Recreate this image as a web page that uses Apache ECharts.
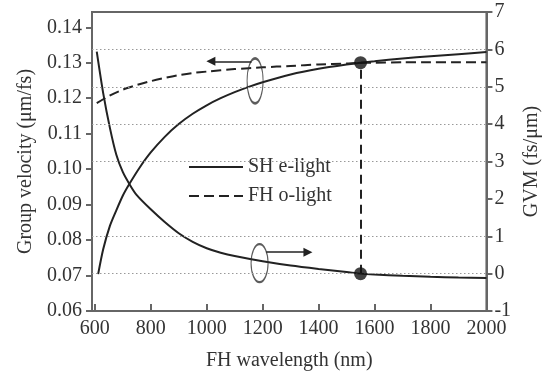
<!DOCTYPE html>
<html>
<head>
<meta charset="utf-8">
<script src="https://cdn.jsdelivr.net/npm/echarts@6/dist/echarts.min.js"></script>
<style>
html,body{margin:0;padding:0;background:#fff;}
#chart{width:550px;height:376px;}
</style>
</head>
<body>
<div id="chart"></div>
<script>
// ---- data ----
const xTickValues = [600, 800, 1000, 1200, 1400, 1600, 1800, 2000];
const leftTickValues = [0.06, 0.07, 0.08, 0.09, 0.10, 0.11, 0.12, 0.13, 0.14];
const rightTickValues = [-1, 0, 1, 2, 3, 4, 5, 6, 7];
const gridValues = [0, 1, 3, 4, 5, 6];

const shLambda = [612, 630, 654, 677, 700, 725, 760, 800, 850, 900, 950, 1000, 1050, 1100, 1150, 1200, 1300, 1400, 1500, 1550, 1600, 1700, 1800, 1900, 2000];
const shGV     = [0.0704, 0.0774, 0.0840, 0.0884, 0.0925, 0.0960, 0.1004, 0.1047, 0.1091, 0.1127, 0.1156, 0.1180, 0.1200, 0.1217, 0.1232, 0.1245, 0.1267, 0.1283, 0.1295, 0.1300, 0.1304, 0.1312, 0.1318, 0.1324, 0.1330];

const fhLambda = [607, 650, 700, 750, 800, 850, 900, 950, 1000, 1100, 1200, 1300, 1400, 1500, 1550, 1600, 1700, 1800, 1900, 2000];
const fhGV     = [0.1186, 0.1206, 0.1224, 0.1237, 0.1248, 0.1257, 0.1265, 0.1271, 0.1275, 0.1282, 0.1287, 0.1291, 0.1295, 0.1298, 0.1300, 0.1300, 0.1301, 0.1301, 0.1301, 0.1301];

const gvmLambda = [607, 630, 654, 677, 700, 725, 750, 800, 850, 900, 950, 1000, 1050, 1100, 1200, 1300, 1400, 1500, 1550, 1600, 1700, 1800, 1900, 2000];
const gvmValues = [5.94, 4.83, 3.90, 3.18, 2.72, 2.38, 2.10, 1.72, 1.38, 1.08, 0.85, 0.68, 0.56, 0.47, 0.33, 0.215, 0.125, 0.045, 0.00, -0.025, -0.06, -0.085, -0.105, -0.12];

const markerLambda = 1550;
const markerGV = 0.1300;
const markerGVM = 0;

// annotation anchors (data coordinates)
const ellipseLeft = [1173, 0.1249];
const ellipseRight = [1189, 0.28];
const arrowLeftFrom = [1160, 0.1304];
const arrowLeftTo = [1015, 0.1304];
const arrowRightFrom = [1213, 0.573];
const arrowRightTo = [1362, 0.573];

// ---- chart ----
const FONT = 'Liberation Serif';
const TXT = '#333';
const AX = '#666';
const FS = 20;
const pairs = (xs, ys) => xs.map((x, i) => [x, ys[i]]);

const chart = echarts.init(document.getElementById('chart'), null, {renderer: 'canvas'});

const lineCommon = {type: 'line', symbol: 'none', showSymbol: false, smooth: 0.25, z: 3};

const option = {
  animation: false,
  grid: {left: 92, right: 59, top: 12, bottom: 64, show: true, borderColor: AX, borderWidth: 2, backgroundColor: 'transparent'},
  legend: {
    data: ['SH e-light', 'FH o-light'],
    orient: 'vertical', left: 188, top: 157,
    itemWidth: 54, itemHeight: 14, itemGap: 9, padding: 0,
    selectedMode: false,
    itemStyle: {opacity: 0},
    textStyle: {fontFamily: FONT, fontSize: FS, color: TXT, lineHeight: 20}
  },
  xAxis: {
    type: 'value', min: 590, max: 2000,
    name: 'FH wavelength (nm)', nameLocation: 'middle', nameGap: 40,
    nameTextStyle: {fontFamily: FONT, fontSize: FS, color: TXT},
    axisLine: {show: true, onZero: false, lineStyle: {color: AX, width: 2}},
    axisTick: {show: true, inside: true, length: 7, lineStyle: {color: AX, width: 2}, customValues: xTickValues},
    axisLabel: {fontFamily: FONT, fontSize: FS, color: TXT, margin: 8, customValues: xTickValues,
      formatter: v => String(v)},
    splitLine: {show: false}
  },
  yAxis: [{
    type: 'value', min: 0.06, max: 0.1443, position: 'left',
    name: 'Group velocity (\u03bcm/fs)', nameLocation: 'middle', nameGap: 54,
    nameTextStyle: {fontFamily: FONT, fontSize: FS, color: TXT},
    axisLine: {show: true, onZero: false, lineStyle: {color: AX, width: 2}},
    axisTick: {show: true, inside: false, length: 6, lineStyle: {color: AX, width: 2}, customValues: leftTickValues},
    axisLabel: {fontFamily: FONT, fontSize: FS, color: TXT, margin: 10, customValues: leftTickValues,
      formatter: v => v.toFixed(2)},
    splitLine: {show: false}
  }, {
    type: 'value', min: -1, max: 7, interval: 1, position: 'right',
    name: 'GVM (fs/\u03bcm)', nameLocation: 'middle', nameGap: 30,
    nameTextStyle: {fontFamily: FONT, fontSize: FS, color: TXT},
    axisLine: {show: true, onZero: false, lineStyle: {color: AX, width: 2}},
    axisTick: {show: true, inside: false, length: 6, lineStyle: {color: AX, width: 2}, customValues: rightTickValues},
    axisLabel: {fontFamily: FONT, fontSize: FS, color: TXT, margin: 8, customValues: rightTickValues,
      formatter: v => String(v)},
    splitLine: {show: false}
  }],
  series: [
    {
      name: 'grid', type: 'line', yAxisIndex: 1, data: [], z: 1, silent: true,
      markLine: {
        silent: true, symbol: ['none', 'none'], label: {show: false},
        lineStyle: {color: '#999', width: 1.2, type: [1.5, 2.5]},
        emphasis: {disabled: true},
        data: gridValues.map(v => ({yAxis: v}))
      }
    },
    Object.assign({}, lineCommon, {
      name: 'SH e-light', yAxisIndex: 0,
      lineStyle: {color: '#222', width: 2, type: 'solid'}, itemStyle: {color: '#222'},
      data: pairs(shLambda, shGV)
    }),
    Object.assign({}, lineCommon, {
      name: 'FH o-light', yAxisIndex: 0,
      lineStyle: {color: '#222', width: 2, type: [10, 5]}, itemStyle: {color: '#222'},
      data: pairs(fhLambda, fhGV)
    }),
    Object.assign({}, lineCommon, {
      name: 'GVM', yAxisIndex: 1,
      lineStyle: {color: '#222', width: 2, type: 'solid'}, itemStyle: {color: '#222'},
      data: pairs(gvmLambda, gvmValues)
    }),
    {
      name: 'ellipseL', type: 'scatter', yAxisIndex: 0, symbol: 'circle', symbolSize: [16, 45], z: 4, silent: true,
      itemStyle: {color: 'transparent', borderColor: '#333', borderWidth: 1.6},
      data: [ellipseLeft],
      markLine: {
        silent: true, symbol: ['none', 'triangle'], symbolSize: 9, label: {show: false},
        lineStyle: {color: '#222', width: 1.5, type: 'solid'}, emphasis: {disabled: true},
        data: [[{coord: arrowLeftFrom}, {coord: arrowLeftTo}]]
      }
    },
    {
      name: 'ellipseR', type: 'scatter', yAxisIndex: 1, symbol: 'circle', symbolSize: [17, 38], z: 4, silent: true,
      itemStyle: {color: 'transparent', borderColor: '#333', borderWidth: 1.6},
      data: [ellipseRight],
      markLine: {
        silent: true, symbol: ['none', 'triangle'], symbolSize: 9, label: {show: false},
        lineStyle: {color: '#222', width: 1.5, type: 'solid'}, emphasis: {disabled: true},
        data: [[{coord: arrowRightFrom}, {coord: arrowRightTo}]]
      }
    },
    {
      name: 'markerTop', type: 'scatter', yAxisIndex: 0, symbol: 'circle', symbolSize: 13, z: 6, silent: true,
      itemStyle: {color: '#111'},
      data: [[markerLambda, markerGV]]
    },
    {
      name: 'markerBottom', type: 'scatter', yAxisIndex: 1, symbol: 'circle', symbolSize: 13, z: 6, silent: true,
      itemStyle: {color: '#111'},
      data: [[markerLambda, markerGVM]]
    }
  ]
};
chart.setOption(option);

// vertical dashed connector between the two markers (top marker mapped onto right axis)
const topPix = chart.convertToPixel({seriesIndex: 6}, [markerLambda, markerGV]);
const topRight = chart.convertFromPixel({seriesIndex: 7}, topPix)[1];
chart.setOption({
  series: [{}, {}, {}, {}, {}, {}, {}, {
    markLine: {
      silent: true, symbol: ['none', 'none'], label: {show: false}, emphasis: {disabled: true},
      lineStyle: {color: '#222', width: 2, type: [9, 6]},
      data: [[{coord: [markerLambda, markerGVM]}, {coord: [markerLambda, topRight]}]]
    }
  }]
});
</script>
</body>
</html>
